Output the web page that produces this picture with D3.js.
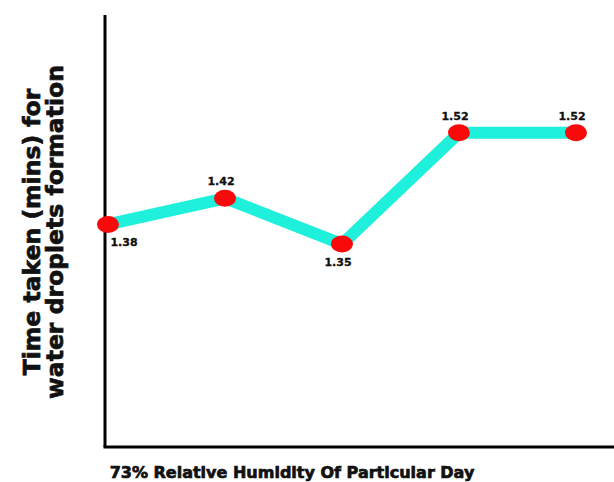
<!DOCTYPE html>
<html>
<head>
<meta charset="utf-8">
<script src="https://cdn.jsdelivr.net/npm/d3@7"></script>
<style>
  body { margin: 0; background: #fff; }
  text { font-family: "DejaVu Sans", sans-serif; font-weight: bold; fill: #111; }
  text.title { stroke: #111; stroke-width: 0.7; }
  text.val { stroke: #111; stroke-width: 0.3; }
</style>
</head>
<body>
<svg id="chart" width="614" height="482"></svg>
<script>
const days = ["1", "2", "3", "4", "5"];
const times = [1.38, 1.42, 1.35, 1.52, 1.52];
// label placement: below for the low points, above for the others
const labelSide = ["below", "above", "below", "above", "above"];

const svg = d3.select("#chart");
const margin = {left: 105, top: 15, right: 0, bottom: 35};
const W = 614, H = 482;

const x = d3.scalePoint()
  .domain(days)
  .range([108, 576]);
const y = d3.scaleLinear()
  .domain([1.04, 1.70])
  .range([H - margin.bottom, margin.top]);

// axes, no ticks
svg.append("line")
  .attr("x1", margin.left).attr("x2", margin.left)
  .attr("y1", margin.top).attr("y2", H - margin.bottom)
  .attr("stroke", "#000").attr("stroke-width", 3);
svg.append("line")
  .attr("x1", margin.left - 1.5).attr("x2", W)
  .attr("y1", H - margin.bottom).attr("y2", H - margin.bottom)
  .attr("stroke", "#000").attr("stroke-width", 3);

const pts = days.map((d, i) => ({day: d, v: times[i], side: labelSide[i]}));

svg.append("path")
  .datum(pts)
  .attr("fill", "none")
  .attr("stroke", "#1ff0dc")
  .attr("stroke-width", 12)
  .attr("stroke-linejoin", "round")
  .attr("d", d3.line().x(d => x(d.day)).y(d => y(d.v)));

svg.selectAll("ellipse.pt")
  .data(pts)
  .enter()
  .append("ellipse")
  .attr("class", "pt")
  .attr("cx", d => x(d.day))
  .attr("cy", d => y(d.v))
  .attr("rx", 11)
  .attr("ry", 8.5)
  .attr("fill", "#f80a0a");

svg.selectAll("text.val")
  .data(pts)
  .enter()
  .append("text")
  .attr("class", "val")
  .attr("x", (d, i) => x(d.day) + (i === 0 ? 16 : -4))
  .attr("y", d => y(d.v) + (d.side === "below" ? 22 : -13))
  .attr("text-anchor", "middle")
  .style("font-size", "11px")
  .text(d => d.v.toFixed(2));

// axis titles
svg.append("text")
  .attr("class", "title")
  .attr("x", 292)
  .attr("y", 478)
  .attr("text-anchor", "middle")
  .style("font-size", "16px")
  .text("73% Relative Humidity Of Particular Day");

const yt = svg.append("g")
  .attr("transform", "translate(0,232) rotate(-90)");
yt.append("text")
  .attr("class", "title")
  .attr("x", 0).attr("y", 40)
  .attr("text-anchor", "middle")
  .style("font-size", "23.5px")
  .text("Time taken (mins) for");
yt.append("text")
  .attr("class", "title")
  .attr("x", 0).attr("y", 63)
  .attr("text-anchor", "middle")
  .style("font-size", "23.5px")
  .text("water droplets formation");
</script>
</body>
</html>
